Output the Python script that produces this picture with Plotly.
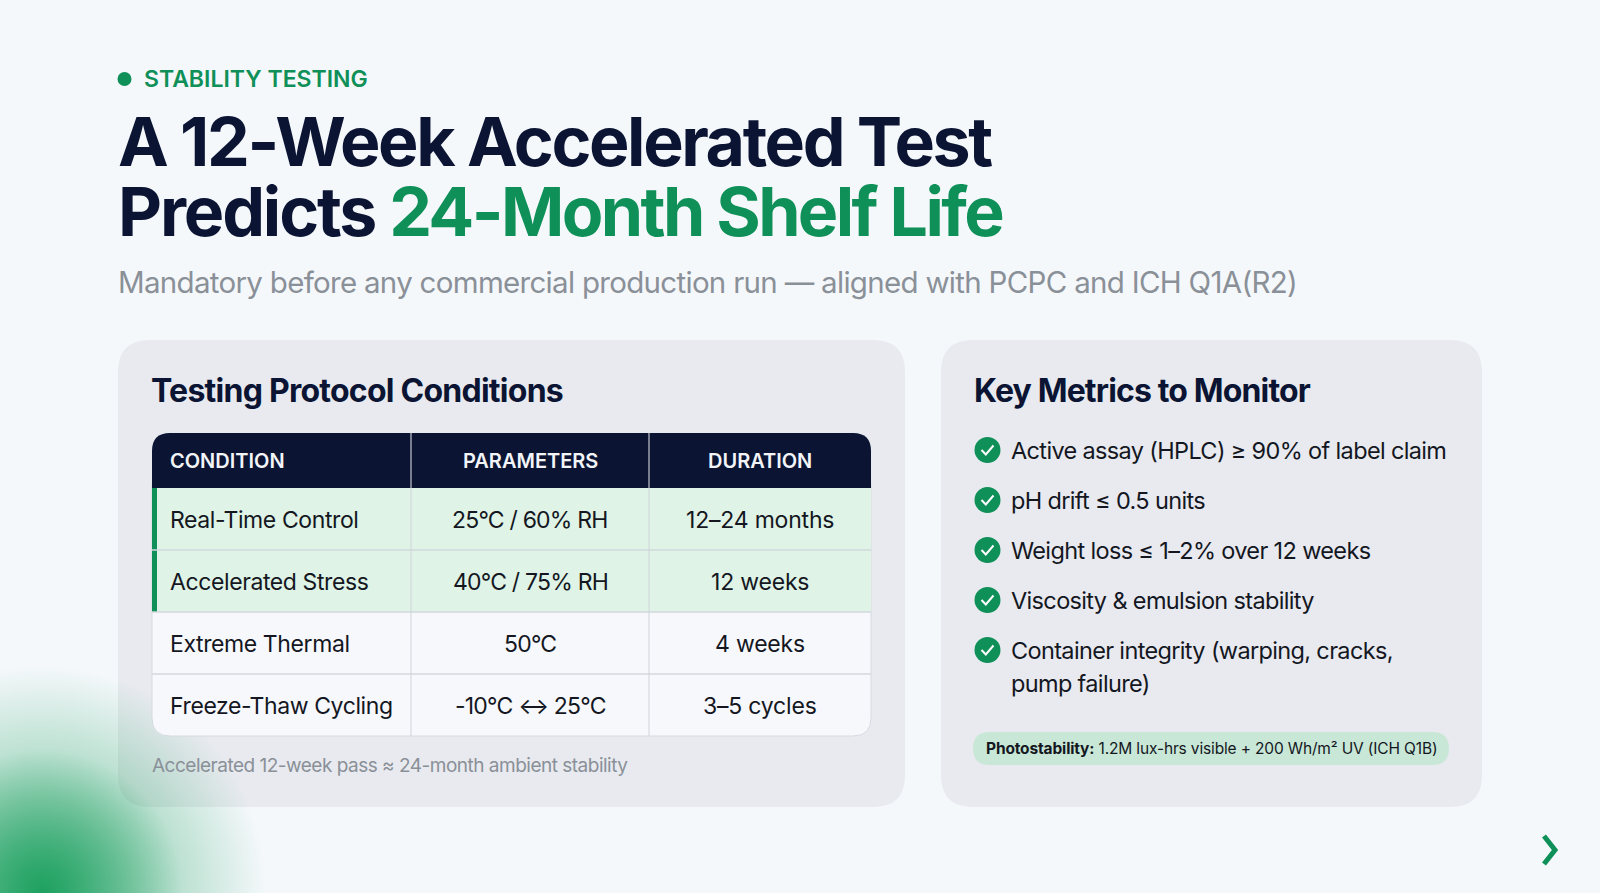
#!/usr/bin/env python3
"""Stability testing slide: protocol table and key metrics, drawn on a pixel-sized axis."""

import plotly.graph_objects as go

W, H = 1600, 893

NAVY = "#0b1533"
GREEN = "#0f9058"
GREY = "#8a9098"
INK = "#14171f"

# content
eyebrow = "STABILITY TESTING"
title_line1 = "A 12-Week Accelerated Test"
title_line2_dark = "Predicts "
title_line2_green = "24-Month Shelf Life"
subtitle = "Mandatory before any commercial production run — aligned with PCPC and ICH Q1A(R2)"

table_title = "Testing Protocol Conditions"
table_header = ["CONDITION", "PARAMETERS", "DURATION"]
conditions = ["Real-Time Control", "Accelerated Stress", "Extreme Thermal", "Freeze-Thaw Cycling"]
parameters = ["25°C / 60% RH", "40°C / 75% RH", "50°C", "-10°C ↔ 25°C"]
durations = ["12–24 months", "12 weeks", "4 weeks", "3–5 cycles"]
highlighted = [True, True, False, False]
table_note = "Accelerated 12-week pass ≈ 24-month ambient stability"

metrics_title = "Key Metrics to Monitor"
metrics = [
    "Active assay (HPLC) ≥ 90% of label claim",
    "pH drift ≤ 0.5 units",
    "Weight loss ≤ 1–2% over 12 weeks",
    "Viscosity & emulsion stability",
    "Container integrity (warping, cracks,<br>pump failure)",
]
pill_bold = "Photostability:"
pill_text = " 1.2M lux-hrs visible + 200 Wh/m² UV (ICH Q1B)"


def rounded(x0, y0, x1, y1, r, tl=True, tr=True, br=True, bl=True):
    """svg path for a rectangle with selectable rounded corners"""
    rtl, rtr, rbr, rbl = [r if c else 0 for c in (tl, tr, br, bl)]
    return (
        f"M {x0 + rtl} {y0} L {x1 - rtr} {y0} Q {x1} {y0} {x1} {y0 + rtr} "
        f"L {x1} {y1 - rbr} Q {x1} {y1} {x1 - rbr} {y1} "
        f"L {x0 + rbl} {y1} Q {x0} {y1} {x0} {y1 - rbl} "
        f"L {x0} {y0 + rtl} Q {x0} {y0} {x0 + rtl} {y0} Z"
    )


fig = go.Figure()
shapes = []
notes = []


def add_box(path, fill, line=None, layer="above", width=1):
    shapes.append(dict(type="path", path=path, fillcolor=fill, layer=layer,
                       line=dict(color=line or "rgba(0,0,0,0)", width=width if line else 0)))


def add_line(x0, y0, x1, y1, color, width=1):
    shapes.append(dict(type="line", x0=x0, y0=y0, x1=x1, y1=y1, layer="above",
                       line=dict(color=color, width=width)))


def add_text(x, y, text, size, color=INK, weight=400, anchor="left", spacing=None):
    if spacing is not None:
        text = f'<span style="letter-spacing:{spacing}px">{text}</span>'
    notes.append(dict(x=x, y=y, xref="x", yref="y", text=text, showarrow=False, xanchor=anchor,
                      yanchor="middle", align="left", borderpad=0,
                      font=dict(family="Inter", size=size, color=color, weight=weight)))


# cards
add_box(rounded(118, 340, 905, 807, 32), "#e8eaef", layer="below")
add_box(rounded(941, 340, 1482, 807, 32), "#e8eaef", layer="below")

# green glow in the corner, two soft radial markers
for size, alpha in ((450, 0.65), (280, 0.8)):
    fig.add_trace(go.Scatter(
        x=[42], y=[890], mode="markers", hoverinfo="skip", showlegend=False,
        marker=dict(size=size, color="rgba(15,155,85,0)", line=dict(width=0),
                    gradient=dict(type="radial", color=f"rgba(15,155,85,{alpha})")),
    ))

# header block
shapes.append(dict(type="circle", x0=117.5, y0=72, x1=131.5, y1=86, fillcolor=GREEN, layer="above",
                   line=dict(width=0)))
add_text(143, 79, eyebrow, 23, GREEN, 600, spacing=0)
add_text(117, 141, title_line1, 68, NAVY, 700, spacing=-2.4)
add_text(117, 211,
         f'<span style="letter-spacing:-2.15px">{title_line2_dark}</span>'
         f'<span style="color:{GREEN};letter-spacing:-2.6px">{title_line2_green}</span>',
         68, NAVY, 700)
add_text(116.5, 282, subtitle, 29.5, GREY, 400, spacing=-0.7)

# table
tx0, tx1 = 152, 871
col1, col2 = 411, 649
head_top, head_bot = 433, 488
row_h = 62
tbl_bot = head_bot + row_h * len(conditions)
add_text(149.5, 390, table_title, 32, NAVY, 700, spacing=-0.75)

add_box(rounded(tx0, head_bot - 5, tx1, tbl_bot, 18, tl=False, tr=False), "#f6f8fc", "#d6dae0")
for i, flag in enumerate(highlighted):
    if flag:
        y = head_bot + i * row_h
        shapes.append(dict(type="rect", x0=tx0, x1=tx1, y0=y, y1=y + row_h, fillcolor="#dff3e6",
                           layer="above", line=dict(width=0)))
        shapes.append(dict(type="rect", x0=tx0, x1=tx0 + 5, y0=y, y1=y + row_h, fillcolor=GREEN,
                           layer="above", line=dict(width=0)))
for i in range(1, len(conditions)):
    add_line(tx0, head_bot + i * row_h, tx1, head_bot + i * row_h, "#d3d8de", 1.5)
add_box(rounded(tx0, head_top, tx1, head_bot, 18, bl=False, br=False), NAVY)
for cx in (col1, col2):
    add_line(cx, head_bot, cx, tbl_bot, "#cfd4da")
    add_line(cx, head_top, cx, head_bot, "#e8eaef")

col2_mid = (col1 + col2) / 2
col3_mid = (col2 + tx1) / 2
add_text(168.5, (head_top + head_bot) / 2, table_header[0], 20, "#f2f4f8", 600)
add_text(col2_mid, (head_top + head_bot) / 2, table_header[1], 20, "#f2f4f8", 600, "center")
add_text(col3_mid, (head_top + head_bot) / 2, table_header[2], 20, "#f2f4f8", 600, "center")
for i in range(len(conditions)):
    y = head_bot + (i + 0.5) * row_h + 1
    add_text(168.5, y, conditions[i], 23, INK, spacing=-0.4)
    add_text(col2_mid, y, parameters[i], 23, INK, anchor="center", spacing=-0.8)
    add_text(col3_mid, y, durations[i], 23, INK, anchor="center", spacing=-0.2)
add_text(150.5, 765, table_note, 19, GREY, spacing=-0.5)

# metrics list
add_text(972.5, 390, metrics_title, 32, NAVY, 700, spacing=-0.85)
for i, metric in enumerate(metrics):
    cy = 450 + i * 50
    shapes.append(dict(type="circle", x0=974.5, x1=1000.5, y0=cy - 13, y1=cy + 13,
                       fillcolor=GREEN, layer="above", line=dict(width=0)))
    shapes.append(dict(type="path", path=f"M 981.5 {cy} L 985.8 {cy + 4.5} L 993.5 {cy - 4.5}",
                       layer="above", line=dict(color="white", width=2)))
    for j, part in enumerate(metric.split("<br>")):
        add_text(1009.5, cy + j * 33, part, 23.5, INK, spacing=-0.65)

# photostability pill
add_box(rounded(973, 732, 1449, 765, 16.5), "#c8e7d6")
add_text(984.5, 748.5, f"<b>{pill_bold}</b>{pill_text}", 15.5, INK, spacing=-0.15)

# next arrow
shapes.append(dict(type="path", path="M 1544 836 L 1555 850 L 1544 864", layer="above",
                   line=dict(color=GREEN, width=5)))

fig.update_layout(
    width=W, height=H,
    margin=dict(l=0, r=0, t=0, b=0),
    paper_bgcolor="#f5f8fb",
    plot_bgcolor="#f5f8fb",
    showlegend=False,
    shapes=shapes,
    annotations=notes,
    xaxis=dict(range=[0, W], visible=False, fixedrange=True),
    yaxis=dict(range=[H, 0], visible=False, fixedrange=True),
)

fig.write_html("out.html", config={"displayModeBar": False},
               post_script="document.body.style.margin='0';")
